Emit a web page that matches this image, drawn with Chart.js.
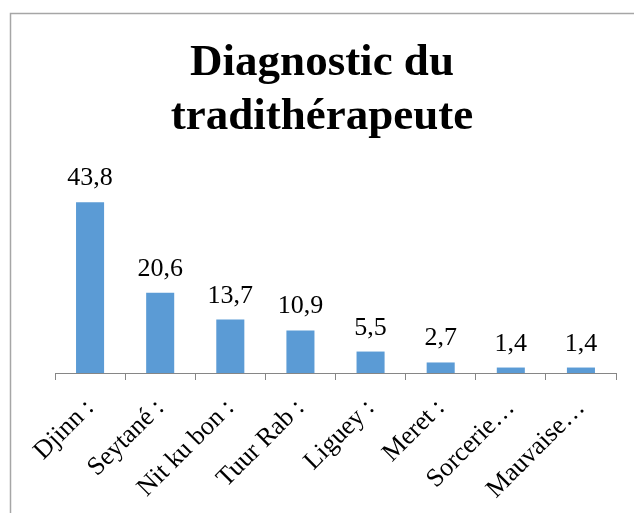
<!DOCTYPE html>
<html>
<head>
<meta charset="utf-8">
<script src="https://cdn.jsdelivr.net/npm/chart.js@4.4.0/dist/chart.umd.min.js"></script>
<style>
  html, body { margin: 0; padding: 0; background: #fff; }
  #wrap { width: 634px; height: 513px; }
</style>
</head>
<body>
<div id="wrap"><canvas id="myChart" width="634" height="513"></canvas></div>
<script>
// data
const categories = ['Djinn :', 'Seytané :', 'Nit ku bon :', 'Tuur Rab :', 'Liguey :', 'Meret :', 'Sorcerie…', 'Mauvaise…'];
const values = [43.8, 20.6, 13.7, 10.9, 5.5, 2.7, 1.4, 1.4];
const titleLines = ['Diagnostic du', 'tradithérapeute'];

const serif = '"Liberation Serif", "Times New Roman", serif';

// frame + title
const framePlugin = {
  id: 'frame',
  beforeDraw(chart) {
    const ctx = chart.ctx;
    ctx.save();
    ctx.fillStyle = '#fff';
    ctx.fillRect(0, 0, chart.width, chart.height);
    ctx.strokeStyle = '#a6a6a6';
    ctx.lineWidth = 1.5;
    ctx.beginPath();
    ctx.moveTo(10.5, chart.height);
    ctx.lineTo(10.5, 13.5);
    ctx.lineTo(chart.width, 13.5);
    ctx.stroke();

    ctx.fillStyle = '#000';
    ctx.font = 'bold 45px ' + serif;
    ctx.textAlign = 'center';
    ctx.textBaseline = 'alphabetic';
    ctx.fillText(titleLines[0], 322, 75);
    ctx.fillText(titleLines[1], 322, 129);
    ctx.restore();
  }
};

// value labels above bars
const valueLabels = {
  id: 'valueLabels',
  afterDatasetsDraw(chart) {
    const ctx = chart.ctx;
    const meta = chart.getDatasetMeta(0);
    ctx.save();
    ctx.fillStyle = '#000';
    ctx.font = '26px ' + serif;
    ctx.textAlign = 'center';
    ctx.textBaseline = 'alphabetic';
    meta.data.forEach((bar, i) => {
      const txt = values[i].toFixed(1).replace('.', ',');
      ctx.fillText(txt, bar.x, bar.y - 17);
    });
    ctx.restore();
  }
};

new Chart(
  document.getElementById('myChart'),
  {
    type: 'bar',
    data: {
      labels: categories,
      datasets: [{
        data: values,
        backgroundColor: '#5b9bd5',
        borderWidth: 0,
        barPercentage: 0.8,
        categoryPercentage: 0.5
      }]
    },
    options: {
      responsive: false,
      animation: false,
      layout: {
        padding: { left: 55, right: 18, top: 178, bottom: 0 }
      },
      plugins: {
        legend: { display: false },
        tooltip: { enabled: false },
        title: { display: false }
      },
      scales: {
        y: {
          display: false,
          min: 0,
          max: 50
        },
        x: {
          afterFit: (scale) => { scale.height = 140; },
          border: { display: true, color: '#868686', width: 1 },
          grid: {
            offset: true,
            drawOnChartArea: false,
            drawTicks: true,
            tickLength: 7,
            color: '#868686'
          },
          ticks: {
            autoSkip: false,
            minRotation: 45,
            maxRotation: 45,
            padding: 13,
            color: '#000',
            font: { family: serif, size: 26 }
          }
        }
      }
    },
    plugins: [framePlugin, valueLabels]
  }
);
</script>
</body>
</html>
